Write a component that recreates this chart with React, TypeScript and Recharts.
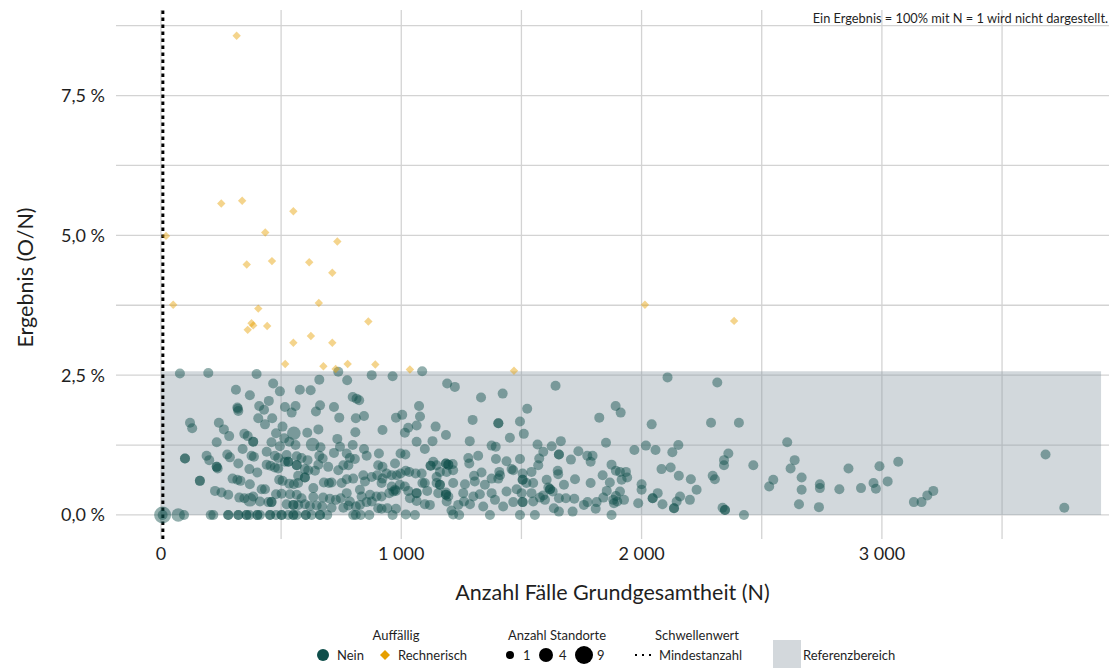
import React from 'react';
import {
  ScatterChart,
  Scatter,
  XAxis,
  YAxis,
  CartesianGrid,
  ReferenceArea,
  ReferenceLine,
  Label,
} from 'recharts';

// ---------- axis / reference values ----------
const xTicks = [0, 1000, 2000, 3000];
const xGridValues = [0, 500, 1000, 1500, 2000, 2500, 3000, 3500];
const yTicks = [0, 2.5, 5, 7.5];
const yGridValues = [0, 1.25, 2.5, 3.75, 5, 6.25, 7.5, 8.75];
const xDomain = [-187, 3945];
const yDomain = [-0.43, 9.03];
const referenzBereich = { from: 0, to: 2.57, nMax: 3912 };
const mindestanzahl = 8;

const xTitle = 'Anzahl Fälle Grundgesamtheit (N)';
const yTitle = 'Ergebnis (O/N)';
const note = 'Ein Ergebnis = 100% mit N = 1 wird nicht dargestellt.';

// ---------- data: [N, Ergebnis %, Anzahl Standorte] ----------
const neinGroupA: number[][] = [
  [79, 2.53], [197, 2.54], [398, 2.52], [467, 2.35], [312, 2.24], [370, 2.14], [495, 2.21], [578, 2.24],
  [623, 2.23], [659, 2.42], [738, 2.56], [775, 2.41], [318, 1.92], [322, 1.86], [320, 1.9], [409, 1.95],
  [449, 2.04], [429, 1.88], [516, 1.93], [560, 1.95], [544, 1.83], [662, 1.96], [645, 1.85], [720, 1.93],
  [742, 1.74], [121, 1.65], [130, 1.55], [241, 1.65], [405, 1.73], [433, 1.62], [463, 1.73], [506, 1.58],
  [262, 1.53], [284, 1.41], [347, 1.45], [361, 1.41], [479, 1.46], [513, 1.37], [553, 1.46, 2], [609, 1.47],
  [655, 1.53], [734, 1.36], [232, 1.3], [384, 1.31], [384, 1.31], [460, 1.3], [495, 1.23], [534, 1.31],
  [560, 1.25], [631, 1.26, 2], [664, 1.21], [745, 1.22],
];
const neinGroupB: number[][] = [
  [100, 1.01], [100, 1.01], [190, 1.06], [201, 0.98], [276, 1.08], [287, 1.03], [340, 1.18], [377, 1.06],
  [387, 1.04], [440, 1.13], [474, 1.06], [488, 1.02], [523, 1.07], [565, 1.05], [585, 1.02], [610, 0.98],
  [659, 1.06], [673, 1.01], [720, 1.11], [773, 1.1], [232, 0.86], [232, 0.86], [236, 0.83], [322, 0.92],
  [368, 0.82], [401, 0.76], [440, 0.9], [456, 0.88], [474, 0.85], [488, 0.83], [516, 0.95], [530, 0.95],
  [530, 0.95], [565, 0.89], [565, 0.89], [571, 0.7], [599, 0.82], [613, 0.8], [641, 0.79], [655, 0.9],
  [696, 0.86], [738, 0.8], [759, 0.89], [162, 0.61], [162, 0.61], [298, 0.65], [318, 0.63], [331, 0.61],
  [370, 0.55], [419, 0.46], [433, 0.46], [492, 0.63], [506, 0.61], [534, 0.56], [553, 0.55], [571, 0.57],
  [599, 0.67], [599, 0.67], [634, 0.48], [678, 0.58], [699, 0.57], [710, 0.58], [752, 0.57], [773, 0.64],
];
const neinGroupC: number[][] = [
  [225, 0.43], [252, 0.4], [280, 0.36], [326, 0.31], [347, 0.3], [370, 0.27, 2], [384, 0.33], [412, 0.24],
  [447, 0.23], [460, 0.23], [460, 0.23], [479, 0.37], [502, 0.38], [537, 0.37], [565, 0.36], [585, 0.3],
  [634, 0.32], [675, 0.31], [703, 0.29], [728, 0.27], [748, 0.3], [773, 0.39], [523, 0.19], [551, 0.18],
  [551, 0.18], [571, 0.18], [599, 0.19], [620, 0.16], [648, 0.17], [671, 0.15], [710, 0.13], [759, 0.13],
  [780, 0.17], [7, 0, 3], [7, 0], [72, 0, 2], [96, 0], [207, 0], [218, 0], [280, 0], [280, 0], [322, 0],
  [322, 0], [356, 0], [356, 0], [368, 0], [401, 0], [401, 0], [412, 0], [454, 0], [454, 0], [479, 0],
  [502, 0], [502, 0], [530, 0], [551, 0], [551, 0], [565, 0], [603, 0], [603, 0], [627, 0], [662, 0],
  [662, 0], [692, 0],
];
const neinGroupD: number[][] = [
  [877, 2.5], [964, 2.48], [1087, 2.57], [1191, 2.35], [1223, 2.29], [1332, 2.1], [1422, 2.17], [1524, 1.9],
  [798, 2.11], [814, 2.08], [825, 2.05], [1074, 1.95], [1004, 1.79], [978, 1.74], [1078, 1.76], [845, 1.77],
  [811, 1.73], [922, 1.52], [809, 1.48], [1029, 1.56], [1064, 1.6], [1015, 1.47], [1143, 1.58], [1186, 1.43],
  [1297, 1.7], [1404, 1.64], [1404, 1.64], [1494, 1.67], [1510, 1.45], [1452, 1.38], [1567, 1.26],
  [1064, 1.31], [1130, 1.32], [1285, 1.32], [1098, 1.18], [798, 1.25], [845, 1.18], [856, 1.06], [907, 1.1],
  [997, 1.1], [1017, 1.08], [1376, 1.24], [1393, 1.22], [1320, 1.06], [1279, 1.02], [1394, 1.0], [1438, 0.96],
  [1494, 1.0], [786, 1.02], [807, 1.0],
];
const neinGroupE: number[][] = [
  [780, 0.89], [904, 0.89], [922, 0.86], [974, 0.92], [1033, 0.77], [1019, 0.79], [997, 0.74], [981, 0.71],
  [960, 0.71], [939, 0.74], [1133, 0.95], [1147, 0.89], [1122, 0.88], [1122, 0.88], [1186, 0.92], [1186, 0.92],
  [1196, 0.9], [1196, 0.9], [1214, 0.91], [1189, 0.77], [1085, 0.74], [1060, 0.74], [1161, 0.77], [1147, 0.68],
  [1216, 0.8], [1283, 0.92], [1334, 0.76], [1303, 0.7], [1408, 0.77], [1411, 0.71], [1459, 0.82], [1466, 0.8],
  [1505, 0.74], [1542, 0.77], [1570, 0.89], [800, 0.65], [842, 0.71], [877, 0.68], [900, 0.71], [922, 0.65],
  [849, 0.6], [918, 0.57], [960, 0.51], [974, 0.45], [994, 0.54], [1015, 0.51], [1088, 0.57], [1098, 0.57],
  [1147, 0.57], [1161, 0.54], [1161, 0.54], [1216, 0.57], [1265, 0.55], [1306, 0.6], [1376, 0.65], [1404, 0.65],
  [1505, 0.63], [1505, 0.63], [1521, 0.57], [1549, 0.57], [1480, 0.46], [1348, 0.54],
];
const neinGroupF: number[][] = [
  [828, 0.45], [870, 0.36], [835, 0.33], [877, 0.24], [897, 0.33], [918, 0.33], [950, 0.39], [967, 0.42],
  [978, 0.43], [1029, 0.43], [1064, 0.39], [1064, 0.39], [1108, 0.43], [1154, 0.39], [1186, 0.36], [1186, 0.36],
  [1196, 0.33], [1186, 0.4], [1258, 0.39], [1300, 0.33], [1327, 0.37], [1376, 0.39], [1390, 0.27], [1438, 0.42],
  [1501, 0.39], [1542, 0.39], [1466, 0.23], [1505, 0.23], [1505, 0.23], [1549, 0.24], [786, 0.24], [811, 0.15],
  [828, 0.18], [856, 0.23], [904, 0.12], [918, 0.11], [942, 0.12], [978, 0.11], [1036, 0.3], [1064, 0.25],
  [1098, 0.19], [1119, 0.18], [1189, 0.24], [1209, 0.08], [1237, 0.18], [1261, 0.24], [1286, 0.19], [1341, 0.15],
  [1424, 0.15], [800, 0], [811, 0], [831, 0], [867, 0], [964, 0], [1019, 0.01], [1057, 0], [1216, 0.01],
  [1241, 0], [1369, 0], [1494, 0],
];
const neinGroupG: number[][] = [
  [1642, 2.31], [2108, 2.46], [2315, 2.37], [1892, 1.95], [1913, 1.83], [1824, 1.74], [2042, 1.62], [2289, 1.65],
  [1626, 1.23], [1664, 1.32], [1852, 1.29], [2018, 1.24], [2153, 1.25], [1970, 1.16], [2058, 1.16], [2128, 1.12],
  [1591, 1.13], [1574, 1.01], [1656, 1.08], [1656, 1.08], [1737, 1.14], [1706, 0.99], [1774, 1.06], [1796, 1.06],
  [1788, 0.95], [1875, 0.9], [1893, 0.79], [1910, 0.77], [1935, 0.77], [1940, 0.67], [1917, 0.63], [1838, 0.71],
  [1651, 0.79], [1653, 0.73], [2083, 0.82], [2121, 0.85], [2155, 0.7], [2205, 0.64], [2296, 0.7], [2305, 0.64],
];
const neinGroupH: number[][] = [
  [1605, 0.63], [1723, 0.64], [1788, 0.57], [1868, 0.58], [2000, 0.55], [2000, 0.45], [2229, 0.45], [1612, 0.49],
  [1619, 0.46], [1619, 0.46], [1630, 0.42], [1591, 0.35], [1677, 0.54], [1855, 0.43], [1910, 0.42], [1893, 0.34],
  [2067, 0.39], [2160, 0.33], [2146, 0.24], [2087, 0.19], [2046, 0.3], [2046, 0.3], [2135, 0.12], [2135, 0.12],
  [2201, 0.27], [1577, 0.31], [1598, 0.27], [1656, 0.3], [1685, 0.3], [1720, 0.29], [1760, 0.18], [1775, 0.23],
  [1813, 0.23], [1841, 0.31], [1882, 0.27], [1885, 0.21], [1899, 0.24], [1927, 0.27], [1809, 0.11], [1635, 0.12],
  [1656, 0.06], [1713, 0.06], [1556, 0], [1875, 0], [1986, 0.21],
];
const neinGroupI: number[][] = [
  [2405, 1.65], [2606, 1.3], [2361, 1.1], [2343, 0.98], [2343, 0.89], [2465, 0.89], [2637, 0.98], [2620, 0.83],
  [2861, 0.83], [2990, 0.87], [3068, 0.95], [2548, 0.63], [2531, 0.51], [2666, 0.67], [2666, 0.45], [2742, 0.55],
  [2742, 0.48], [2823, 0.46], [2913, 0.48], [2965, 0.57], [2975, 0.47], [3024, 0.6], [2337, 0.13], [2347, 0.09],
  [2347, 0.09], [2426, 0], [2655, 0.19], [2738, 0.14], [3133, 0.23], [3165, 0.23], [3189, 0.35], [3214, 0.43],
  [3681, 1.08], [3759, 0.13],
];
const rechnerischPoints: number[][] = [
  [21, 4.99], [51, 3.76], [251, 5.57], [338, 5.62], [551, 5.43], [434, 5.05], [734, 4.89], [357, 4.48],
  [462, 4.54], [617, 4.52], [713, 4.33], [657, 3.79], [405, 3.69], [377, 3.43], [384, 3.39], [442, 3.38],
  [361, 3.31], [863, 3.46], [624, 3.2], [551, 3.08], [713, 3.08], [517, 2.7], [676, 2.66], [777, 2.7],
  [727, 2.61], [892, 2.69], [1036, 2.6], [315, 8.57], [1469, 2.58], [2014, 3.76], [2385, 3.47],
];

const toRows = (arr: number[][]) => arr.map(([x, y, n]) => ({ x, y, n: n ?? 1 }));
const neinData = toRows([
  ...neinGroupA, ...neinGroupB, ...neinGroupC, ...neinGroupD, ...neinGroupE,
  ...neinGroupF, ...neinGroupG, ...neinGroupH, ...neinGroupI,
]);
const rechnerischData = toRows(rechnerischPoints);

// ---------- styles ----------
const FONT = 'Lato, "Open Sans", "DejaVu Sans", sans-serif';
const TEAL = '#0e4e4a';
const ORANGE = '#e69f00';
const BAND = '#8a98a4';
const GRID = '#d3d3d3';
const TEXT = '#1f1f1f';

const fmtX = (v: number) =>
  v === 0 ? '0' : `${Math.floor(v / 1000)}\u00a0${String(v % 1000).padStart(3, '0')}`;
const fmtY = (v: number) => `${v.toFixed(1).replace('.', ',')}\u00a0%`;

const NeinShape = (p: any) => {
  const n = p.payload?.n ?? 1;
  const r = 5 + 1.75 * (n - 1);
  return <circle cx={p.cx} cy={p.cy} r={r} fill={TEAL} fillOpacity={0.45} />;
};
const DiamondShape = (p: any) => {
  const h = 4.2;
  const { cx, cy } = p;
  return (
    <polygon
      points={`${cx},${cy - h} ${cx + h},${cy} ${cx},${cy + h} ${cx - h},${cy}`}
      fill={ORANGE}
      fillOpacity={0.45}
    />
  );
};

const Legend = () => {
  const t = { fontFamily: FONT, fontSize: 13, fill: TEXT, dominantBaseline: 'central' as const };
  return (
    <svg width={1115} height={668} style={{ position: 'absolute', left: 0, top: 0, pointerEvents: 'none' }}>
      <text x={396} y={635} textAnchor="middle" {...t}>Auffällig</text>
      <circle cx={323} cy={655} r={6} fill={TEAL} />
      <text x={337} y={655} {...t}>Nein</text>
      <polygon points="385,650 390,655 385,660 380,655" fill={ORANGE} />
      <text x={398} y={655} {...t}>Rechnerisch</text>

      <text x={557} y={635} textAnchor="middle" {...t}>Anzahl Standorte</text>
      <circle cx={510} cy={655} r={4} fill="#000" />
      <text x={523} y={655} {...t}>1</text>
      <circle cx={546} cy={655} r={7} fill="#000" />
      <text x={559} y={655} {...t}>4</text>
      <circle cx={584} cy={655} r={9} fill="#000" />
      <text x={597} y={655} {...t}>9</text>

      <text x={697} y={635} textAnchor="middle" {...t}>Schwellenwert</text>
      <line x1={635} y1={655} x2={653} y2={655} stroke="#000" strokeWidth={2} strokeDasharray="2 5" />
      <text x={659} y={655} {...t}>Mindestanzahl</text>

      <rect x={773} y={640} width={28} height={28} fill="#d3d8dc" />
      <text x={803} y={655} {...t}>Referenzbereich</text>
    </svg>
  );
};

export default function App() {
  const tickStyle = { fontFamily: FONT, fontSize: 18, fill: TEXT };
  return (
    <div style={{ position: 'absolute', left: 0, top: 0, width: 1115, height: 668, background: '#fff' }}>
      <ScatterChart width={1115} height={668} margin={{ top: 10, right: 6, bottom: 0, left: 0 }}>
        <CartesianGrid
          horizontalValues={yGridValues}
          verticalValues={xGridValues}
          stroke={GRID}
          strokeWidth={1.3}
        />
        <XAxis
          type="number"
          dataKey="x"
          domain={xDomain}
          allowDataOverflow
          ticks={xTicks}
          tickFormatter={fmtX}
          axisLine={false}
          tickLine={false}
          tickSize={0}
          tickMargin={8}
          height={129}
          tick={tickStyle}
        >
          <Label
            content={({ viewBox }: any) => (
              <text
                x={viewBox.x + viewBox.width / 2}
                y={viewBox.y + 53}
                textAnchor="middle"
                dominantBaseline="central"
                fontFamily={FONT}
                fontSize={21.5}
                fill={TEXT}
              >
                {xTitle}
              </text>
            )}
          />
        </XAxis>
        <YAxis
          type="number"
          dataKey="y"
          domain={yDomain}
          allowDataOverflow
          ticks={yTicks}
          tickFormatter={fmtY}
          axisLine={false}
          tickLine={false}
          tickSize={0}
          tickMargin={11}
          width={116}
          tick={tickStyle}
        >
          <Label
            content={({ viewBox }: any) => {
              const x = viewBox.x + 25;
              const y = viewBox.y + viewBox.height / 2 + 3;
              return (
                <text
                  x={x}
                  y={y}
                  transform={`rotate(-90 ${x} ${y})`}
                  textAnchor="middle"
                  dominantBaseline="central"
                  fontFamily={FONT}
                  fontSize={21.5}
                  fill={TEXT}
                >
                  {yTitle}
                </text>
              );
            }}
          />
        </YAxis>
        <ReferenceArea
          x1={referenzBereich.from}
          x2={referenzBereich.nMax}
          y1={referenzBereich.from}
          y2={referenzBereich.to}
          fill={BAND}
          fillOpacity={0.38}
          stroke="none"
          ifOverflow="visible"
        />
        <Scatter data={neinData} shape={NeinShape} isAnimationActive={false} />
        <Scatter data={rechnerischData} shape={DiamondShape} isAnimationActive={false} />
        <ReferenceLine
          x={mindestanzahl}
          stroke="#000"
          strokeWidth={3}
          strokeDasharray="3.5 3.5"
          ifOverflow="visible"
        />
      </ScatterChart>
      <div
        style={{
          position: 'absolute',
          right: 7,
          top: 10,
          fontFamily: FONT,
          fontSize: 12.8,
          color: TEXT,
          whiteSpace: 'nowrap',
        }}
      >
        {note}
      </div>
      <Legend />
    </div>
  );
}
